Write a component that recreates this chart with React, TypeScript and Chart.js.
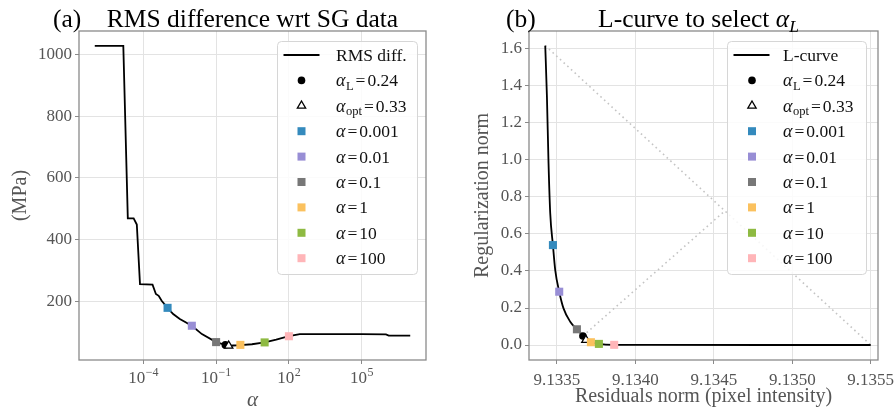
import React, { useEffect, useRef } from 'react';
import { Chart, registerables } from 'chart.js';

Chart.register(...registerables);

const FONT = '"Liberation Serif", "Times New Roman", "DejaVu Serif", serif';
const f = (size: number, italic = false) => `${italic ? 'italic ' : ''}${size}px ${FONT}`;

// ---------------- Panel (a): RMS difference ----------------
const RMS_ALPHA = [1e-6, 1.5e-5, 2.3e-5, 4.0e-5, 5.4e-5, 7.3e-5, 2.4e-4, 3.3e-4, 4.3e-4, 5.7e-4, 1e-3, 1.7e-3, 3.2e-3, 1e-2, 2.6e-2, 0.1, 0.16, 0.24, 0.33, 0.5, 1, 3, 10, 30, 100, 282, 1e3, 1e4, 1e5, 1e6, 1.3e6, 1e7];
const RMS_VALUE = [1028, 1028, 469, 469, 449, 256, 254, 224, 218, 202, 179, 159, 143, 121, 94, 68, 63, 59, 56, 57, 58, 61, 67, 76, 87, 94, 94, 94, 94, 93, 89, 89];

const MARK_ALPHA = [0.001, 0.01, 0.1, 1, 10, 100];
const MARK_LABELS = ['0.001', '0.01', '0.1', '1', '10', '100'];
const MARK_COLORS = ['#348ABD', '#988ED5', '#777777', '#FBC15E', '#8EBA42', '#FFB5B8'];
const MARK_RMS = [179, 121, 68, 59, 67, 87];

const ALPHA_L = 0.24;
const ALPHA_L_LABEL = '0.24';
const ALPHA_OPT = 0.33;
const ALPHA_OPT_LABEL = '0.33';
const RMS_AT_L = 59;
const RMS_AT_OPT = 56;

const A_X_TICKS = [1e-4, 1e-1, 1e2, 1e5];
const A_X_TICK_EXP = ['\u22124', '\u22121', '2', '5'];
const A_Y_TICKS = [200, 400, 600, 800, 1000];

// ---------------- Panel (b): L-curve ----------------
const RES_NORM = [9.1334255, 9.1334363, 9.1334465, 9.1334573, 9.1334745, 9.1334892, 9.1335146, 9.133542, 9.1335847, 9.1336274, 9.1336656, 9.1336847, 9.1337166, 9.1337675, 9.133865, 9.13410, 9.1355];
const REG_NORM = [1.618, 1.342, 0.982, 0.712, 0.54, 0.405, 0.288, 0.198, 0.126, 0.085, 0.049, 0.027, 0.015, 0.006, 0.001, 0.0002, 0.0];

const MARK_RES = [9.1334745, 9.1335146, 9.1336274, 9.1337166, 9.1337675, 9.133865];
const MARK_REG = [0.54, 0.288, 0.085, 0.015, 0.006, 0.001];
const L_RES = 9.1336656;
const L_REG = 0.049;
const OPT_RES = 9.1336847;
const OPT_REG = 0.027;

const DIAG_RES = [9.1334255, 9.1355];
const DIAG_REG = [1.618, 0.0];
const PERP_RES = [9.1336656, 9.1345694];
const PERP_REG = [0.049, 0.724];

const B_X_TICKS = [9.1335, 9.134, 9.1345, 9.135, 9.1355];
const B_X_TICK_LABELS = ['9.1335', '9.1340', '9.1345', '9.1350', '9.1355'];
const B_Y_TICKS = [0, 0.2, 0.4, 0.6, 0.8, 1.0, 1.2, 1.4, 1.6];

// ---------------- styling ----------------
const GRID = '#e3e3e3';
const SPINE = '#8a8a8a';
const TICK_TEXT = '#555555';
const LABEL_TEXT = '#555555';

type Seg = { t: string; font: string; dy?: number; gap?: number };

function drawRich(ctx: CanvasRenderingContext2D, segs: Seg[], x: number, y: number, align: 'left' | 'center') {
  let total = 0;
  for (const s of segs) {
    ctx.font = s.font;
    total += ctx.measureText(s.t).width + (s.gap || 0);
  }
  let cx = align === 'center' ? x - total / 2 : x;
  ctx.textAlign = 'left';
  for (const s of segs) {
    ctx.font = s.font;
    cx += s.gap || 0;
    ctx.fillText(s.t, cx, y + (s.dy || 0));
    cx += ctx.measureText(s.t).width;
  }
}

function mathEq(sub: string | null, value: string): Seg[] {
  const segs: Seg[] = [{ t: '\u03b1', font: f(18, true) }];
  if (sub) segs.push({ t: sub, font: f(12.5), dy: 3.5, gap: 0.5 });
  segs.push({ t: '=', font: f(17.5), gap: 2 });
  segs.push({ t: value, font: f(17.5), gap: 2 });
  return segs;
}

type LegendItem = { kind: 'line' | 'circle' | 'tri' | 'rect'; color: string; segs: Seg[] };

function legendItems(first: string): LegendItem[] {
  const items: LegendItem[] = [
    { kind: 'line', color: '#000', segs: [{ t: first, font: f(17.5) }] },
    { kind: 'circle', color: '#000', segs: mathEq('L', ALPHA_L_LABEL) },
    { kind: 'tri', color: '#000', segs: mathEq('opt', ALPHA_OPT_LABEL) },
  ];
  MARK_LABELS.forEach((lab, i) => items.push({ kind: 'rect', color: MARK_COLORS[i], segs: mathEq(null, lab) }));
  return items;
}

type Decor = {
  tag: string;
  tagX: number;
  title: Seg[];
  titleShift: number;
  yTitle: string;
  yTitleX: number;
  xTitle: Seg[];
  xTitleY: number;
  xTickLabel: (i: number) => Seg[];
  xTicks: number[];
  xTickY: number;
  legend: { x: number; y: number; w: number; h: number; lineX0: number; lineX1: number; markX: number; textX: number; row0: number; dy: number; items: LegendItem[] };
};

function drawMarker(ctx: CanvasRenderingContext2D, kind: string, color: string, x: number, y: number) {
  ctx.save();
  if (kind === 'circle') {
    ctx.fillStyle = color;
    ctx.beginPath();
    ctx.arc(x, y, 3.8, 0, Math.PI * 2);
    ctx.fill();
  } else if (kind === 'tri') {
    const r = 4.8;
    ctx.fillStyle = '#fff';
    ctx.strokeStyle = color;
    ctx.lineWidth = 1.3;
    ctx.beginPath();
    ctx.moveTo(x, y - r);
    ctx.lineTo(x + r * Math.sin((2 * Math.PI) / 3), y + r / 2);
    ctx.lineTo(x - r * Math.sin((2 * Math.PI) / 3), y + r / 2);
    ctx.closePath();
    ctx.fill();
    ctx.stroke();
  } else if (kind === 'rect') {
    ctx.fillStyle = color;
    ctx.fillRect(x - 4, y - 4, 8, 8);
  } else {
    ctx.strokeStyle = color;
    ctx.lineWidth = 1.8;
    ctx.beginPath();
    ctx.moveTo(x - 18, y);
    ctx.lineTo(x + 18, y);
    ctx.stroke();
  }
  ctx.restore();
}

function decorPlugin(d: Decor) {
  return {
    id: 'decor_' + d.tag,
    afterDraw(chart: any) {
      const ctx: CanvasRenderingContext2D = chart.ctx;
      const a = chart.chartArea;
      const xs = chart.scales.x;
      ctx.save();
      // spines
      ctx.strokeStyle = SPINE;
      ctx.lineWidth = 1.3;
      ctx.strokeRect(a.left, a.top, a.right - a.left, a.bottom - a.top);

      // x tick labels
      ctx.fillStyle = TICK_TEXT;
      ctx.textBaseline = 'alphabetic';
      d.xTicks.forEach((v, i) => {
        const px = xs.getPixelForValue(v);
        drawRich(ctx, d.xTickLabel(i), px, d.xTickY, 'center');
      });

      // axis titles
      ctx.fillStyle = LABEL_TEXT;
      drawRich(ctx, d.xTitle, (a.left + a.right) / 2, d.xTitleY, 'center');
      ctx.save();
      ctx.translate(d.yTitleX, (a.top + a.bottom) / 2);
      ctx.rotate(-Math.PI / 2);
      ctx.font = f(20);
      ctx.textAlign = 'center';
      ctx.fillText(d.yTitle, 0, 0);
      ctx.restore();

      // panel title
      ctx.fillStyle = '#000';
      drawRich(ctx, [{ t: d.tag, font: f(25.5) }], d.tagX, 27, 'left');
      drawRich(ctx, d.title, (a.left + a.right) / 2 + d.titleShift, 27, 'center');

      // legend
      const L = d.legend;
      ctx.fillStyle = 'rgba(255,255,255,0.85)';
      ctx.strokeStyle = '#d6d6d6';
      ctx.lineWidth = 1;
      ctx.beginPath();
      (ctx as any).roundRect(L.x + 0.5, L.y + 0.5, L.w, L.h, 4);
      ctx.fill();
      ctx.stroke();
      L.items.forEach((it, i) => {
        const y = L.row0 + i * L.dy;
        drawMarker(ctx, it.kind, it.color, it.kind === 'line' ? (L.lineX0 + L.lineX1) / 2 : L.markX, y);
        ctx.fillStyle = '#111';
        drawRich(ctx, it.segs, L.textX, y + 6, 'left');
      });
      ctx.restore();
    },
  };
}

function scaleCommon(ticksArr: number[], fitKey: 'width' | 'height', fitVal: number, showLabels: boolean, fmt?: (v: number) => string) {
  return {
    afterBuildTicks: (s: any) => {
      s.ticks = ticksArr.map((v) => ({ value: v }));
    },
    afterFit: (s: any) => {
      s[fitKey] = fitVal;
    },
    grid: { color: GRID, lineWidth: 1, drawTicks: true, tickLength: 4, tickColor: SPINE, tickWidth: 1 },
    border: { display: false },
    ticks: {
      display: showLabels,
      padding: 3,
      color: TICK_TEXT,
      font: { family: FONT, size: 17 },
      callback: fmt ? (v: any) => fmt(Number(v)) : undefined,
    },
  };
}

function configA(): any {
  const datasets: any[] = [
    {
      label: 'RMS diff.',
      data: RMS_ALPHA.map((x, i) => ({ x, y: RMS_VALUE[i] })),
      showLine: true,
      borderColor: '#000',
      borderWidth: 1.8,
      pointRadius: 0,
      order: 20,
    },
    {
      data: [{ x: ALPHA_L, y: RMS_AT_L }],
      pointStyle: 'circle',
      pointRadius: 3.8,
      backgroundColor: '#000',
      borderColor: '#000',
      borderWidth: 0,
      order: 9,
    },
    {
      data: [{ x: ALPHA_OPT, y: RMS_AT_OPT }],
      pointStyle: 'triangle',
      pointRadius: 4.8,
      backgroundColor: '#fff',
      borderColor: '#000',
      borderWidth: 1.3,
      order: 8,
    },
    ...MARK_ALPHA.map((x, i) => ({
      data: [{ x, y: MARK_RMS[i] }],
      pointStyle: 'rect',
      pointRadius: 5.7,
      backgroundColor: MARK_COLORS[i],
      borderColor: MARK_COLORS[i],
      borderWidth: 0,
      order: 7 - i,
    })),
  ];
  const decor: Decor = {
    tag: '(a)',
    tagX: 53,
    title: [{ t: 'RMS difference wrt SG data', font: f(25.5) }],
    titleShift: 0,
    yTitle: '(MPa)',
    yTitleX: 25.5,
    xTitle: [{ t: '\u03b1', font: f(21, true) }],
    xTitleY: 406,
    xTicks: A_X_TICKS,
    xTickY: 383,
    xTickLabel: (i) => [
      { t: '10', font: f(17) },
      { t: A_X_TICK_EXP[i], font: f(12), dy: -7.5, gap: 0.5 },
    ],
    legend: { x: 277, y: 41, w: 140, h: 233, lineX0: 283, lineX1: 320, markX: 301.5, textX: 336, row0: 55, dy: 25.4, items: legendItems('RMS diff.') },
  };
  return {
    type: 'scatter',
    data: { datasets },
    options: {
      animation: false,
      responsive: false,
      maintainAspectRatio: false,
      devicePixelRatio: 1,
      events: [],
      layout: { padding: { left: 0, top: 31, right: 448 - 426, bottom: 0 } },
      plugins: { legend: { display: false }, tooltip: { enabled: false }, title: { display: false } },
      scales: {
        x: { type: 'logarithmic', min: Math.pow(10, -6.65), max: Math.pow(10, 7.65), ...scaleCommon(A_X_TICKS, 'height', 54, false) },
        y: { type: 'linear', min: 10, max: 1076, ...scaleCommon(A_Y_TICKS, 'width', 79, true, (v) => String(Math.round(v))) },
      },
    },
    plugins: [decorPlugin(decor)],
  };
}

function configB(): any {
  const datasets: any[] = [
    {
      label: 'L-curve',
      data: RES_NORM.map((x, i) => ({ x, y: REG_NORM[i] })),
      showLine: true,
      borderColor: '#000',
      borderWidth: 1.8,
      pointRadius: 0,
      cubicInterpolationMode: 'monotone',
      order: 20,
    },
    {
      data: DIAG_RES.map((x, i) => ({ x, y: DIAG_REG[i] })),
      showLine: true,
      borderColor: '#c4c4c4',
      borderWidth: 1.6,
      borderDash: [1.6, 3.4],
      pointRadius: 0,
      order: 30,
    },
    {
      data: PERP_RES.map((x, i) => ({ x, y: PERP_REG[i] })),
      showLine: true,
      borderColor: '#c4c4c4',
      borderWidth: 1.6,
      borderDash: [1.6, 3.4],
      pointRadius: 0,
      order: 31,
    },
    {
      data: [{ x: L_RES, y: L_REG }],
      pointStyle: 'circle',
      pointRadius: 3.8,
      backgroundColor: '#000',
      borderColor: '#000',
      borderWidth: 0,
      order: 9,
    },
    {
      data: [{ x: OPT_RES, y: OPT_REG }],
      pointStyle: 'triangle',
      pointRadius: 4.8,
      backgroundColor: '#fff',
      borderColor: '#000',
      borderWidth: 1.3,
      order: 8,
    },
    ...MARK_RES.map((x, i) => ({
      data: [{ x, y: MARK_REG[i] }],
      pointStyle: 'rect',
      pointRadius: 5.7,
      backgroundColor: MARK_COLORS[i],
      borderColor: MARK_COLORS[i],
      borderWidth: 0,
      order: 7 - i,
    })),
  ];
  const decor: Decor = {
    tag: '(b)',
    tagX: 58,
    title: [
      { t: 'L-curve to select ', font: f(25.5) },
      { t: '\u03b1', font: f(25.5, true) },
      { t: 'L', font: f(17.5, true), dy: 5 },
    ],
    titleShift: -5,
    yTitle: 'Regularization norm',
    yTitleX: 40,
    xTitle: [{ t: 'Residuals norm (pixel intensity)', font: f(20) }],
    xTitleY: 401.5,
    xTicks: B_X_TICKS,
    xTickY: 385,
    xTickLabel: (i) => [{ t: B_X_TICK_LABELS[i], font: f(17) }],
    legend: { x: 279, y: 41, w: 139, h: 233, lineX0: 285, lineX1: 322, markX: 304, textX: 335, row0: 55, dy: 25.4, items: legendItems('L-curve') },
  };
  return {
    type: 'scatter',
    data: { datasets },
    options: {
      animation: false,
      responsive: false,
      maintainAspectRatio: false,
      devicePixelRatio: 1,
      events: [],
      layout: { padding: { left: 0, top: 31, right: 448 - 430, bottom: 0 } },
      plugins: { legend: { display: false }, tooltip: { enabled: false }, title: { display: false } },
      scales: {
        x: { type: 'linear', min: 9.133322, max: 9.1355465, ...scaleCommon(B_X_TICKS, 'height', 54, false) },
        y: { type: 'linear', min: -0.081, max: 1.697, ...scaleCommon(B_Y_TICKS, 'width', 81, true, (v) => v.toFixed(1)) },
      },
    },
    plugins: [decorPlugin(decor)],
  };
}

export default function App() {
  const refA = useRef<HTMLCanvasElement>(null);
  const refB = useRef<HTMLCanvasElement>(null);
  useEffect(() => {
    const a = new Chart(refA.current as HTMLCanvasElement, configA());
    const b = new Chart(refB.current as HTMLCanvasElement, configB());
    return () => {
      a.destroy();
      b.destroy();
    };
  }, []);
  return (
    <div style={{ position: 'absolute', left: 0, top: 0, width: 896, height: 414, background: '#fff', overflow: 'hidden' }}>
      <canvas ref={refA} width={448} height={414} style={{ position: 'absolute', left: 0, top: 0, width: 448, height: 414 }} />
      <canvas ref={refB} width={448} height={414} style={{ position: 'absolute', left: 448, top: 0, width: 448, height: 414 }} />
    </div>
  );
}
